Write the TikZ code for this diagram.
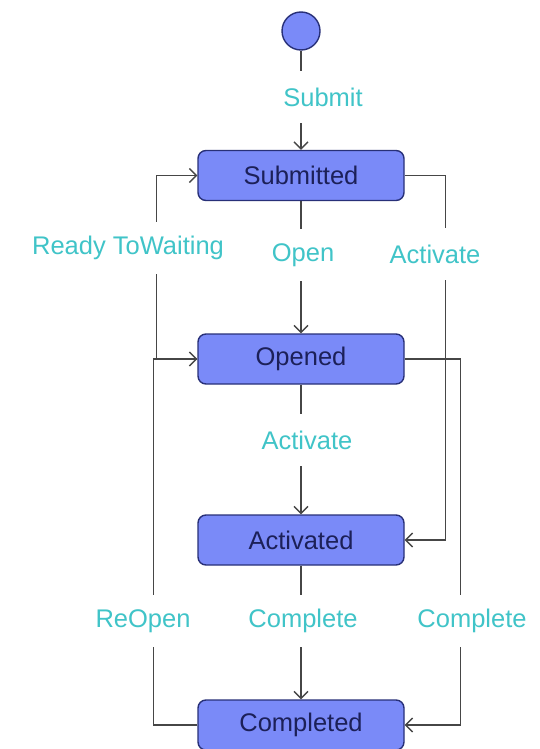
\documentclass[tikz,border=0pt]{standalone}
\usepackage{fontspec}
\setmainfont{Liberation Sans}
\usetikzlibrary{arrows.meta}
\definecolor{statefill}{RGB}{122,138,248}
\definecolor{stateline}{RGB}{40,48,120}
\definecolor{statetext}{RGB}{28,32,88}
\definecolor{transcol}{RGB}{64,196,200}
\definecolor{wirecol}{RGB}{70,70,70}
\tikzset{
    state/.style={draw=stateline, fill=statefill, line width=1.4pt, rounded corners=8pt,
        minimum width=206pt, minimum height=50pt, text=statetext, font=\fontsize{25.5}{30}\selectfont},
    trlabel/.style={fill=white, text=transcol, inner xsep=1pt, minimum height=52pt,
        font=\fontsize{25.5}{30}\selectfont},
    wire/.style={draw=wirecol, line width=1.3pt, -{Straight Barb[length=7pt,width=14pt]}},
}

\begin{document}
\begin{tikzpicture}[x=1pt,y=-1pt]
    \useasboundingbox (0,0) rectangle (540,749);

    % states
    \node[circle, draw=stateline, fill=statefill, line width=1.4pt, minimum size=38pt, inner sep=0pt] (init) at (301,31) {};
    \node[state] (submitted) at (301,175.5) {Submitted};
    \node[state] (opened) at (301,359) {Opened};
    \node[state] (activated) at (301,540) {Activated};
    \node[state] (completed) at (301,725) {Completed};

    % straight down
    \draw[wire] (init) -- (submitted);
    \draw[wire] (submitted) -- (opened);
    \draw[wire] (opened) -- (activated);
    \draw[wire] (activated) -- (completed);

    % round the side
    \draw[wire] (submitted.east) -- ++(41,0) |- (activated.east);
    \draw[wire] (opened.east) -- ++(56,0) |- (completed.east);
    \draw[wire] (opened.west) -- ++(-41,0) |- (submitted.west);
    \draw[wire] (completed.west) -- ++(-44,0) |- (opened.west);

    % transition names, they blank the line behind them
    \node[trlabel] (lsubmit) at (323,97) {Submit};
    \node[trlabel] (lwait) at (128,248) {Ready ToWaiting};
    \node[trlabel] (lopen) at (303,255) {Open};
    \node[trlabel] (lactivate) at (435,254) {Activate};
    \node[trlabel] (lactivateb) at (307,440) {Activate};
    \node[trlabel] (lreopen) at (143,621) {ReOpen};
    \node[trlabel] (lcomplete) at (303,621) {Complete};
    \node[trlabel] (lcompleteb) at (472,621) {Complete};
\end{tikzpicture}
\end{document}
